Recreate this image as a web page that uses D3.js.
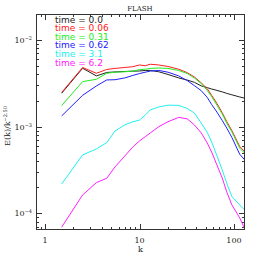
<!DOCTYPE html>
<html>
<head>
<meta charset="utf-8">
<script src="https://cdn.jsdelivr.net/npm/d3@7"></script>
<style>
  body { margin: 0; background: #fff; }
  svg { display: block; }
</style>
</head>
<body>
<svg id="chart"></svg>
<script>
const width = 258;
const height = 258;
const margin = { left: 36, right: 13, top: 14, bottom: 28 };

// wavenumbers shared by all curves
const kValues = [1.5, 2.5, 3.5, 4.5, 5.5, 7, 8.5, 10, 11.5, 13, 16, 20, 26, 32, 38, 45, 52, 58, 66, 75, 84, 95, 115, 130];

const series0 = [2.43e-3, 4.72e-3, 3.85e-3, 4.22e-3, 4.28e-3, 4.33e-3, 4.37e-3, 4.39e-3, 4.45e-3, 4.45e-3, 4.30e-3, 4.0e-3, 3.65e-3, 3.45e-3, 3.25e-3, 2.95e-3, 2.82e-3, 2.72e-3, 2.62e-3, 2.52e-3, 2.42e-3, 2.33e-3, 2.20e-3, 2.13e-3];
const series006 = [2.48e-3, 4.82e-3, 4.13e-3, 4.57e-3, 4.70e-3, 4.82e-3, 4.92e-3, 5.15e-3, 5.05e-3, 5.25e-3, 5.15e-3, 4.95e-3, 4.60e-3, 4.20e-3, 3.75e-3, 3.20e-3, 2.75e-3, 2.30e-3, 1.85e-3, 1.45e-3, 1.14e-3, 9.0e-4, 5.9e-4, 5.15e-4];
const series031 = [1.75e-3, 3.31e-3, 3.52e-3, 4.13e-3, 4.25e-3, 4.30e-3, 4.38e-3, 4.55e-3, 4.60e-3, 4.70e-3, 4.75e-3, 4.70e-3, 4.45e-3, 4.10e-3, 3.65e-3, 3.15e-3, 2.62e-3, 2.22e-3, 1.77e-3, 1.40e-3, 1.09e-3, 8.7e-4, 5.65e-4, 4.93e-4];
const series062 = [1.33e-3, 2.30e-3, 2.95e-3, 3.46e-3, 3.48e-3, 3.65e-3, 3.90e-3, 4.10e-3, 4.25e-3, 4.38e-3, 4.45e-3, 4.25e-3, 3.85e-3, 3.40e-3, 2.98e-3, 2.60e-3, 2.18e-3, 1.80e-3, 1.47e-3, 1.18e-3, 9.6e-4, 7.5e-4, 4.8e-4, 4.13e-4];
const series31 = [2.18e-4, 4.72e-4, 5.53e-4, 6.54e-4, 8.91e-4, 1.05e-3, 1.14e-3, 1.19e-3, 1.36e-3, 1.56e-3, 1.69e-3, 1.77e-3, 1.76e-3, 1.62e-3, 1.44e-3, 1.10e-3, 8.6e-4, 6.67e-4, 4.6e-4, 3.17e-4, 2.2e-4, 1.56e-4, 1.25e-4, 1.09e-4];
const series62 = [6.92e-5, 1.63e-4, 2.26e-4, 2.54e-4, 3.43e-4, 4.59e-4, 5.83e-4, 6.84e-4, 7.67e-4, 8.46e-4, 1.0e-3, 1.14e-3, 1.28e-3, 1.23e-3, 1.05e-3, 8.46e-4, 6.5e-4, 5.10e-4, 3.6e-4, 2.56e-4, 1.75e-4, 1.25e-4, 8.85e-5, 6.61e-5];

const times = ["0.0", "0.06", "0.31", "0.62", "3.1", "6.2"];
const colors = ["#222222", "#ff2020", "#20ee20", "#2020ff", "#20f0f0", "#ff20ff"];
const allSeries = [series0, series006, series031, series062, series31, series62];

const xTicks = [1, 10, 100];
const yTicks = [1e-2, 1e-3, 1e-4];
const yTickExp = ["-2", "-3", "-4"];

const serif = "'DejaVu Serif', 'Liberation Serif', serif";
const sans = "'DejaVu Sans', Arial, sans-serif";

const svg = d3.select("#chart")
    .attr("width", width)
    .attr("height", height);

const x = d3.scaleLog()
    .domain([0.803, 130.7])
    .range([margin.left, width - margin.right]);

const y = d3.scaleLog()
    .domain([6.42e-5, 0.01995])
    .range([height - margin.bottom, margin.top]);

const x0 = margin.left, x1 = width - margin.right;
const y0 = height - margin.bottom, y1 = margin.top;

// minor tick positions
function minorTicks(lo, hi) {
    let out = [];
    for (let e = Math.floor(Math.log10(lo)); e <= Math.ceil(Math.log10(hi)); e++) {
        for (let m = 1; m < 10; m++) {
            let v = m * Math.pow(10, e);
            if (v >= lo && v <= hi && m !== 1) out.push(v);
        }
    }
    return out;
}

const xMinor = minorTicks(0.803, 130.7);
const yMinor = minorTicks(6.42e-5, 0.01995);

const ticks = svg.append("g")
    .attr("stroke", "#333")
    .attr("stroke-width", 1);

// bottom + top
ticks.selectAll("xmaj").data(xTicks).enter()
    .append("path")
    .attr("d", d => {
        let px = Math.round(x(d)) + 0.5;
        return "M" + px + "," + y0 + "v-6M" + px + "," + y1 + "v6";
    });
ticks.selectAll("xmin").data(xMinor).enter()
    .append("path")
    .attr("d", d => {
        let px = Math.round(x(d)) + 0.5;
        return "M" + px + "," + y0 + "v-3M" + px + "," + y1 + "v3";
    });
// left + right
ticks.selectAll("ymaj").data(yTicks).enter()
    .append("path")
    .attr("d", d => {
        let py = Math.round(y(d)) + 0.5;
        return "M" + x0 + "," + py + "h6M" + x1 + "," + py + "h-6";
    });
ticks.selectAll("ymin").data(yMinor).enter()
    .append("path")
    .attr("d", d => {
        let py = Math.round(y(d)) + 0.5;
        return "M" + x0 + "," + py + "h3M" + x1 + "," + py + "h-3";
    });

// curves
const line = d3.line()
    .x((d, i) => x(kValues[i]))
    .y(d => y(d));

svg.append("defs").append("clipPath").attr("id", "clip")
    .append("rect")
    .attr("x", x0).attr("y", y1)
    .attr("width", x1 - x0).attr("height", y0 - y1);

svg.append("g")
    .attr("clip-path", "url(#clip)")
    .selectAll("path").data(allSeries).enter()
    .append("path")
    .attr("d", line)
    .attr("fill", "none")
    .attr("stroke", (d, i) => colors[i])
    .attr("stroke-width", 1);

// frame
svg.append("rect")
    .attr("x", x0 + 0.5)
    .attr("y", y1 + 0.5)
    .attr("width", x1 - x0 - 1)
    .attr("height", y0 - y1 - 1)
    .attr("fill", "none")
    .attr("stroke", "#333")
    .attr("stroke-width", 1);

// tick labels
svg.selectAll("xlabels").data(xTicks).enter()
    .append("text")
    .attr("x", d => x(d))
    .attr("y", y0 + 13)
    .attr("text-anchor", "middle")
    .attr("font-family", serif)
    .attr("font-size", 8)
    .attr("fill", "#222")
    .text(d => d);

const yl = svg.selectAll("ylabels").data(yTicks).enter()
    .append("text")
    .attr("x", x0 - 4)
    .attr("y", d => y(d) + 3)
    .attr("text-anchor", "end")
    .attr("font-family", serif)
    .attr("font-size", 8)
    .attr("fill", "#222");
yl.append("tspan").text("10");
yl.append("tspan")
    .attr("dy", -3)
    .attr("font-size", 5)
    .text((d, i) => yTickExp[i].replace("-", "\u2212"));

// axis titles
svg.append("text")
    .attr("x", (x0 + x1) / 2)
    .attr("y", y0 + 22)
    .attr("text-anchor", "middle")
    .attr("font-family", serif)
    .attr("font-size", 8)
    .attr("fill", "#222")
    .text("k");

const ytitle = svg.append("text")
    .attr("transform", "translate(10," + 126 + ") rotate(-90)")
    .attr("text-anchor", "middle")
    .attr("font-family", serif)
    .attr("font-size", 8)
    .attr("fill", "#222");
ytitle.append("tspan").text("E(k)/k");
ytitle.append("tspan")
    .attr("dy", -3)
    .attr("font-size", 5)
    .text("\u22122.50");

svg.append("text")
    .attr("x", 140)
    .attr("y", 11)
    .attr("text-anchor", "middle")
    .attr("font-family", serif)
    .attr("font-size", 7)
    .attr("fill", "#222")
    .text("FLASH");

// legend
svg.selectAll("legend").data(times).enter()
    .append("text")
    .attr("x", 55)
    .attr("y", (d, i) => 22.5 + i * 8.6)
    .attr("font-family", sans)
    .attr("font-size", 9)
    .attr("fill", (d, i) => colors[i])
    .attr("xml:space", "preserve")
    .text(d => "time = " + d);
</script>
</body>
</html>
